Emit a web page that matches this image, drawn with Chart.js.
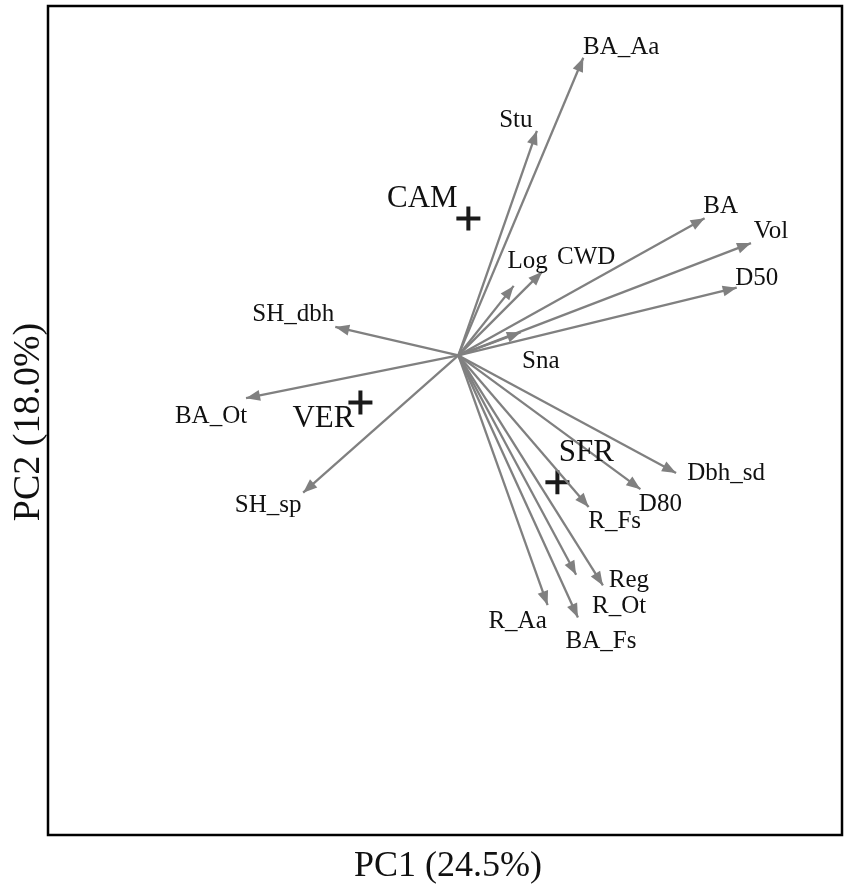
<!DOCTYPE html>
<html>
<head>
<meta charset="utf-8">
<script src="https://cdn.jsdelivr.net/npm/chart.js@4/dist/chart.umd.min.js"></script>
<style>
  html, body { margin: 0; padding: 0; background: #ffffff; }
  #wrap { width: 851px; height: 891px; }
</style>
</head>
<body>
<div id="wrap"><canvas id="c" width="851" height="891"></canvas></div>
<script>
// ---- data ----
const variables = ['BA_Aa','Stu','BA','Vol','D50','CWD','Log','Sna','SH_dbh','BA_Ot','SH_sp','Dbh_sd','D80','R_Fs','Reg','R_Ot','BA_Fs','R_Aa'];
const pc1Loadings = [0.70, 0.44, 1.38, 1.64, 1.56, 0.47, 0.31, 0.35, -0.69, -1.19, -0.87, 1.22, 1.02, 0.73, 0.81, 0.66, 0.67, 0.50];
const pc2Loadings = [1.67, 1.26, 0.77, 0.63, 0.38, 0.47, 0.39, 0.13, 0.16, -0.24, -0.77, -0.66, -0.75, -0.85, -1.29, -1.23, -1.47, -1.40];
const groups = ['CAM','VER','SFR'];
const groupPC1 = [0.056, -0.549, 0.555];
const groupPC2 = [0.768, -0.264, -0.712];
const xTitle = 'PC1 (24.5%)';
const yTitle = 'PC2 (18.0%)';

// ---- layout / style (pixel offsets of labels from arrow tips) ----
const labelOffsets = [[38,-4],[-21,-4],[16,-5],[20,-5],[20,-3],[44,-8],[14,-18],[20,36],[-42,-6],[-35,25],[-35,19],[50,7],[20,22],[26,21],[26,2],[43,38],[23,31],[-30,23]];
const groupLabelOffsets = [[-46,-12],[-37,25],[29,-21]];
const SERIF = '"Liberation Serif", "Times New Roman", Times, serif';
const ARROW = '#808080';

const datasets = variables.map((v, i) => ({
  label: v,
  data: [{x: 0, y: 0}, {x: pc1Loadings[i], y: pc2Loadings[i]}],
  showLine: true,
  borderColor: ARROW,
  borderWidth: 2.3,
  pointRadius: 0,
  pointHoverRadius: 0,
  fill: false
}));
datasets.push({
  label: 'groups',
  data: groups.map((g, i) => ({x: groupPC1[i], y: groupPC2[i]})),
  showLine: false,
  pointStyle: 'cross',
  pointRadius: 12,
  pointBorderWidth: 4,
  borderColor: '#1a1a1a',
  backgroundColor: '#1a1a1a'
});

const biplotPlugin = {
  id: 'biplot',
  afterDatasetsDraw(chart) {
    const ctx = chart.ctx;
    const xs = chart.scales.x, ys = chart.scales.y;
    const ox = xs.getPixelForValue(0), oy = ys.getPixelForValue(0);
    ctx.save();
    // arrow heads
    ctx.fillStyle = ARROW;
    variables.forEach((v, i) => {
      const tx = xs.getPixelForValue(pc1Loadings[i]);
      const ty = ys.getPixelForValue(pc2Loadings[i]);
      const a = Math.atan2(ty - oy, tx - ox);
      const L = 14, W = 5.5;
      ctx.beginPath();
      ctx.moveTo(tx, ty);
      ctx.lineTo(tx - L*Math.cos(a) + W*Math.sin(a), ty - L*Math.sin(a) - W*Math.cos(a));
      ctx.lineTo(tx - L*Math.cos(a) - W*Math.sin(a), ty - L*Math.sin(a) + W*Math.cos(a));
      ctx.closePath();
      ctx.fill();
    });
    // variable labels
    ctx.fillStyle = '#111111';
    ctx.font = '25px ' + SERIF;
    ctx.textAlign = 'center';
    ctx.textBaseline = 'alphabetic';
    variables.forEach((v, i) => {
      const tx = xs.getPixelForValue(pc1Loadings[i]);
      const ty = ys.getPixelForValue(pc2Loadings[i]);
      ctx.fillText(v, tx + labelOffsets[i][0], ty + labelOffsets[i][1]);
    });
    // group labels
    ctx.font = '31px ' + SERIF;
    groups.forEach((g, i) => {
      const px = xs.getPixelForValue(groupPC1[i]);
      const py = ys.getPixelForValue(groupPC2[i]);
      ctx.fillText(g, px + groupLabelOffsets[i][0], py + groupLabelOffsets[i][1]);
    });
    // frame
    const ca = chart.chartArea;
    ctx.strokeStyle = '#000000';
    ctx.lineWidth = 2.5;
    ctx.strokeRect(ca.left, ca.top, ca.right - ca.left, ca.bottom - ca.top);
    // axis titles
    ctx.fillStyle = '#111111';
    ctx.font = '36px ' + SERIF;
    ctx.textAlign = 'center';
    ctx.fillText(xTitle, (ca.left + ca.right) / 2 + 3, 876);
    ctx.save();
    ctx.translate(39, 422);
    ctx.rotate(-Math.PI / 2);
    ctx.font = '38px ' + SERIF;
    ctx.fillText(yTitle, 0, 0);
    ctx.restore();
    ctx.restore();
  }
};

new Chart(document.getElementById('c'), {
  type: 'scatter',
  data: { datasets },
  options: {
    responsive: false,
    animation: false,
    devicePixelRatio: 1,
    layout: { autoPadding: false, padding: { left: 48, top: 6, right: 9, bottom: 56 } },
    plugins: { legend: { display: false }, tooltip: { enabled: false } },
    scales: {
      x: { type: 'linear', min: -2.3, max: 2.15, display: false },
      y: { type: 'linear', min: -2.69, max: 1.96, display: false }
    }
  },
  plugins: [biplotPlugin]
});
</script>
</body>
</html>
